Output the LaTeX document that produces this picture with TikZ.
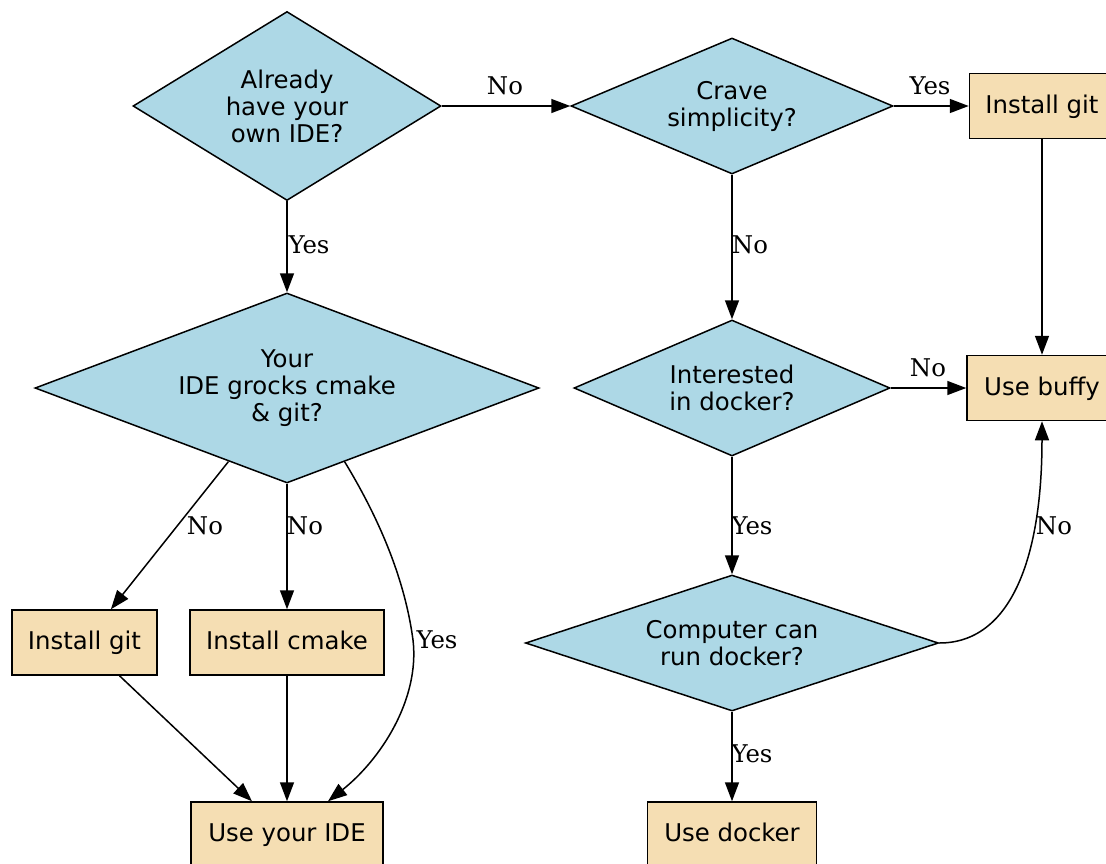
\documentclass[tikz,border=0pt]{standalone}
\usepackage{fontspec}
\newfontfamily\nodefont{DejaVu Sans}
\newfontfamily\lblfont{DejaVu Serif}
\usetikzlibrary{shapes.geometric,arrows.meta}
\definecolor{dlblue}{HTML}{ADD8E6}
\definecolor{dwheat}{HTML}{F5DEB3}
\begin{document}
\begin{tikzpicture}[x=1pt,y=-1pt,
  every node/.style={font=\nodefont\fontsize{24.4}{27}\selectfont},
  decision/.style={diamond,draw=black,fill=dlblue,line width=1.5pt,inner sep=0pt,align=center},
  action/.style={rectangle,draw=black,fill=dwheat,line width=1.5pt,inner sep=0pt,minimum height=65pt,text height=18pt,text depth=4pt},
  lbl/.style={font=\lblfont\fontsize{24.4}{27}\selectfont,inner sep=0pt},
  conn/.style={line width=1.5pt,-{Triangle[length=19pt,width=14pt]}}]
\useasboundingbox (0,0) rectangle (1106,863);
\clip (0,0) rectangle (1106,863);

\node[decision,minimum width=308pt,minimum height=189pt,aspect=1.63] (A) at (287,106) {Already\\have your\\own IDE?};
\node[decision,minimum width=322pt,minimum height=136pt,aspect=2.37] (B) at (732,106) {Crave\\simplicity?};
\node[action,minimum width=145pt] (gitR) at (1042,106) {Install git};
\node[decision,minimum width=316pt,minimum height=136pt,aspect=2.32] (D) at (732,388) {Interested\\in docker?};
\node[action,minimum width=150pt] (buffy) at (1042,388) {Use buffy};
\node[decision,minimum width=413pt,minimum height=136pt,aspect=3.04] (E) at (732,643) {Computer can\\run docker?};
\node[action,minimum width=169pt] (docker) at (732,834.5) {Use docker};
\node[decision,minimum width=504pt,minimum height=190pt,aspect=2.65] (G) at (287,388) {Your\\IDE grocks cmake\\\& git?};
\node[action,minimum width=145pt] (gitL) at (84.5,642.5) {Install git};
\node[action,minimum width=194pt] (cmake) at (287,642.5) {Install cmake};
\node[action,minimum width=192pt] (IDE) at (287,834.5) {Use your IDE};

\draw[conn] (A) -- (B);
\draw[conn] (A) -- (G);
\draw[conn] (B) -- (gitR);
\draw[conn] (B) -- (D);
\draw[conn] (gitR) -- (buffy);
\draw[conn] (D) -- (buffy);
\draw[conn] (D) -- (E);
\draw[conn] (E) -- (docker);
\draw[conn] (E.east) .. controls (1010,643) and (1042,560) .. (buffy.south);
\draw[conn] (G) -- (gitL);
\draw[conn] (G) -- (cmake);
\draw[conn] (G.-52) .. controls (380,520) and (405,580) .. (413,640) .. controls (420,700) and (380,760) .. ([xshift=41pt]IDE.north);
\draw[conn] (gitL) -- (IDE);
\draw[conn] (cmake) -- (IDE);

\node[lbl] (l1) at (505,86) {No};
\node[lbl] (l2) at (309,245) {Yes};
\node[lbl] (l3) at (930,86) {Yes};
\node[lbl] (l4) at (750,245) {No};
\node[lbl] (l5) at (928,368) {No};
\node[lbl] (l6) at (752,526) {Yes};
\node[lbl] (l7) at (752,754) {Yes};
\node[lbl] (l8) at (1054,526) {No};
\node[lbl] (l9) at (205,526) {No};
\node[lbl] (l10) at (305,526) {No};
\node[lbl] (l11) at (437,640) {Yes};
\end{tikzpicture}
\end{document}
